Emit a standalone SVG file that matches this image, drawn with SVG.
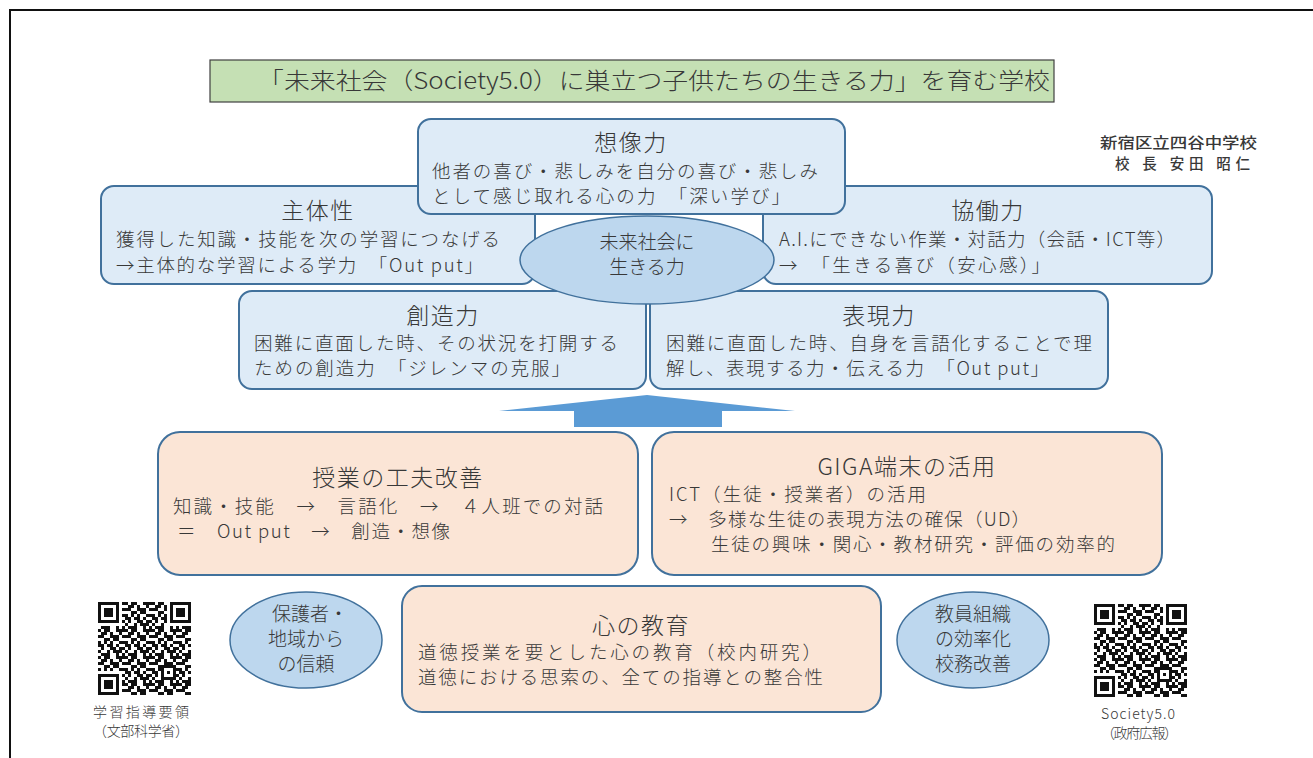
<svg xmlns="http://www.w3.org/2000/svg" width="1313" height="758" viewBox="0 0 1313 758">
<style>
text{font-family:"Noto Sans CJK JP","Noto Sans",sans-serif;fill:#383838}
.bb{fill:#deebf7;stroke:#41719c;stroke-width:2}
.ob{fill:#fbe5d6;stroke:#41719c;stroke-width:2}
.el{fill:#bdd7ee;stroke:#41719c;stroke-width:1.5}
.h{font-size:23px;text-anchor:middle;letter-spacing:1.5px;font-weight:300}
.t{font-size:18.5px;font-weight:300}
.e{font-size:19px;text-anchor:middle;font-weight:300}
.s{font-size:14px;font-weight:300}
</style>
<defs>
<pattern id="qr" width="27" height="27" patternUnits="userSpaceOnUse">
<path fill="#111" d="M0 0h3v3h-3zM6 0h6v3h-6zM18 0h9v3h-9zM3 3h6v3h-6zM12 3h3v3h-3zM21 3h3v3h-3zM0 6h6v3h-6zM12 6h9v3h-9zM24 6h3v3h-3zM6 9h6v3h-6zM15 9h6v3h-6zM0 12h3v3h-3zM6 12h3v3h-3zM12 12h3v3h-3zM21 12h6v3h-6zM0 15h6v3h-6zM9 15h6v3h-6zM18 15h3v3h-3zM3 18h3v3h-3zM12 18h6v3h-6zM21 18h6v3h-6zM0 21h3v3h-3zM9 21h3v3h-3zM15 21h9v3h-9zM3 24h9v3h-9zM18 24h3v3h-3zM24 24h3v3h-3z"/>
</pattern>
<g id="qrcode">
<rect width="93" height="93" fill="url(#qr)"/>
<rect width="24" height="24" fill="#fff"/><rect x="69" width="24" height="24" fill="#fff"/><rect y="69" width="24" height="24" fill="#fff"/>
<path fill="#111" fill-rule="evenodd" d="M0 0h21v21h-21zM3 3v15h15v-15zM6 6h9v9h-9zM72 0h21v21h-21zM75 3v15h15v-15zM78 6h9v9h-9zM0 72h21v21h-21zM3 75v15h15v-15zM6 78h9v9h-9z"/>
<rect x="63" y="63" width="15" height="15" fill="#fff"/>
<path fill="#111" fill-rule="evenodd" d="M63 63h15v15h-15zM66 66v9h9v-9zM69 69h3v3h-3z"/>
</g>
</defs>
<rect x="10" y="10" width="1320" height="800" fill="#fff" stroke="#111" stroke-width="2"/>

<g id="title">
<rect x="210" y="60" width="844" height="42" fill="#c5e0b4" stroke="#404040" stroke-width="1.2"/>
<text x="258" y="89" font-size="23" font-weight="300" textLength="792" lengthAdjust="spacingAndGlyphs">「未来社会（Society5.0）に巣立つ子供たちの生きる力」を育む学校</text>
</g>

<g id="author">
<text x="1100" y="148" font-size="14.5" textLength="157" lengthAdjust="spacingAndGlyphs" font-weight="500" fill="#404040">新宿区立四谷中学校</text>
<text x="1115" y="169" font-size="14.5" textLength="135" font-weight="500" fill="#404040">校 長 安田 昭仁</text>
</g>

<g id="shutaisei">
<rect class="bb" x="101" y="186" width="434" height="98" rx="13"/>
<text class="h" x="318" y="219">主体性</text>
<text class="t" x="116" y="246" textLength="384">獲得した知識・技能を次の学習につなげる</text>
<text class="t" x="116" y="272" textLength="367">→主体的な学習による学力　「Out put」</text>
</g>

<g id="kyodo">
<rect class="bb" x="763" y="186" width="449" height="98" rx="13"/>
<text class="h" x="988" y="219">協働力</text>
<text class="t" x="779" y="246" textLength="396">A.I.にできない作業・対話力（会話・ICT等）</text>
<text class="t" x="779" y="272" textLength="271">→　「生きる喜び（安心感）」</text>
</g>

<g id="sozo">
<rect class="bb" x="418" y="119" width="427" height="95" rx="13"/>
<text class="h" x="631" y="151">想像力</text>
<text class="t" x="432" y="178" textLength="386">他者の喜び・悲しみを自分の喜び・悲しみ</text>
<text class="t" x="432" y="203" textLength="358">として感じ取れる心の力　「深い学び」</text>
</g>

<g id="souzouryoku">
<rect class="bb" x="239" y="291" width="407" height="98" rx="13"/>
<text class="h" x="443" y="324">創造力</text>
<text class="t" x="254" y="350" textLength="364">困難に直面した時、その状況を打開する</text>
<text class="t" x="254" y="375" textLength="316">ための創造力　「ジレンマの克服」</text>
</g>

<g id="hyogen">
<rect class="bb" x="650" y="291" width="458" height="98" rx="13"/>
<text class="h" x="879" y="324">表現力</text>
<text class="t" x="666" y="350" textLength="426">困難に直面した時、自身を言語化することで理</text>
<text class="t" x="666" y="375" textLength="383">解し、表現する力・伝える力　「Out put」</text>
</g>

<g id="mirai">
<ellipse class="el" cx="647" cy="260" rx="127" ry="44"/>
<text class="e" x="647" y="249" font-size="17">未来社会に</text>
<text class="e" x="647" y="274" font-size="17">生きる力</text>
</g>

<g id="connectors">
<path d="M647 395 L795 411 L722 411 L722 427 L574 427 L574 411 L499 411 Z" fill="#5b9bd5"/>
</g>

<g id="jugyo">
<rect class="ob" x="158" y="432" width="480" height="143" rx="22"/>
<text class="h" x="398" y="486">授業の工夫改善</text>
<text class="t" x="173" y="513" textLength="430">知識・技能　→　言語化　→　４人班での対話</text>
<text class="t" x="177" y="538" textLength="273">＝　Out put　→　創造・想像</text>
</g>

<g id="giga">
<rect class="ob" x="652" y="432" width="510" height="143" rx="22"/>
<text class="h" x="907" y="475">GIGA端末の活用</text>
<text class="t" x="669" y="501" textLength="257">ICT（生徒・授業者）の活用</text>
<text class="t" x="669" y="526" textLength="361">→　多様な生徒の表現方法の確保（UD）</text>
<text class="t" x="711" y="551" textLength="404">生徒の興味・関心・教材研究・評価の効率的</text>
</g>

<g id="kokoro">
<rect class="ob" x="402" y="586" width="479" height="126" rx="20"/>
<text class="h" x="641" y="634">心の教育</text>
<text class="t" x="418" y="659" textLength="403">道徳授業を要とした心の教育（校内研究）</text>
<text class="t" x="418" y="684" textLength="405">道徳における思索の、全ての指導との整合性</text>
</g>

<g id="hogosha">
<ellipse class="el" cx="306" cy="640" rx="76" ry="48"/>
<text class="e" x="310" y="621">保護者・</text>
<text class="e" x="306" y="646">地域から</text>
<text class="e" x="306" y="671">の信頼</text>
</g>

<g id="kyoin">
<ellipse class="el" cx="973" cy="640" rx="76" ry="48"/>
<text class="e" x="973" y="621">教員組織</text>
<text class="e" x="973" y="646">の効率化</text>
<text class="e" x="973" y="671">校務改善</text>
</g>

<g id="qr-left">
<use href="#qrcode" x="98" y="602"/>
<text class="s" x="93" y="717" textLength="96">学習指導要領</text>
<text class="s" x="93" y="736" textLength="96">（文部科学省）</text>
</g>

<g id="qr-right">
<use href="#qrcode" x="1094" y="604"/>
<text class="s" x="1101" y="719" textLength="74">Society5.0</text>
<text class="s" x="1101" y="738" textLength="77">（政府広報）</text>
</g>
</svg>
